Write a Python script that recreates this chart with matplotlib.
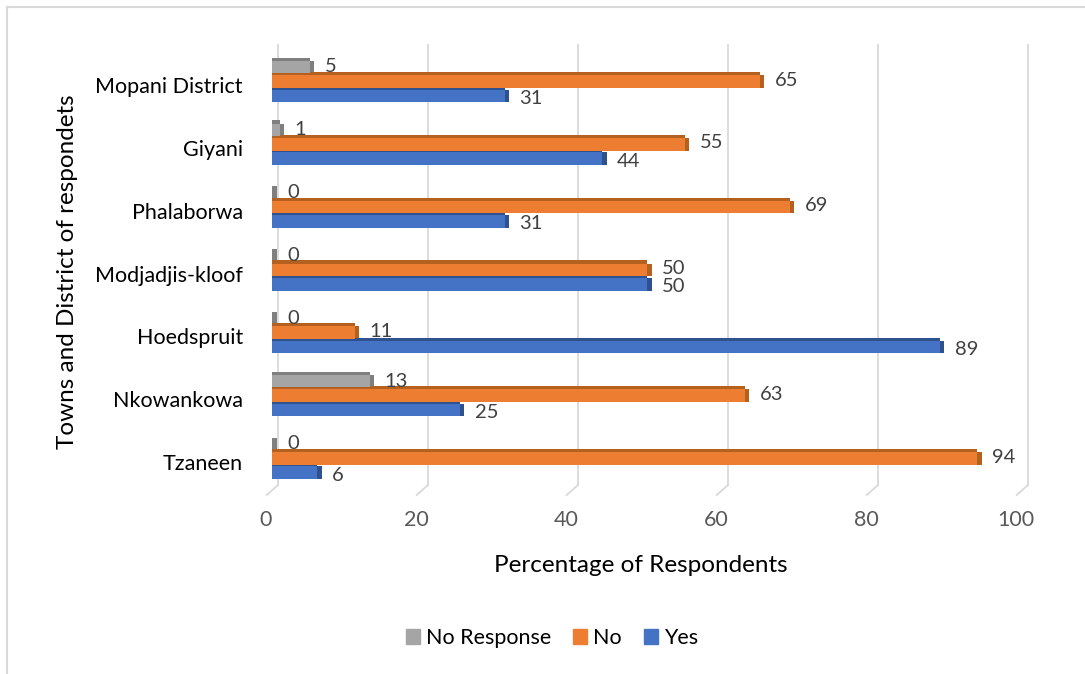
import matplotlib
matplotlib.use('Agg')
import matplotlib.pyplot as plt
from matplotlib.patches import Patch
from matplotlib.transforms import ScaledTranslation

plt.rcParams['font.family'] = ['Lato', 'DejaVu Sans']

towns = ['Tzaneen', 'Nkowankowa', 'Hoedspruit', 'Modjadjis-kloof',
         'Phalaborwa', 'Giyani', 'Mopani District']
yes = [6, 25, 89, 50, 31, 44, 31]
no = [94, 63, 11, 50, 69, 55, 65]
no_response = [0, 13, 0, 0, 0, 1, 5]
x_ticks = [0, 20, 40, 60, 80, 100]

# series: (name, values, face colour, side colour, y offset, label nudge)
series = [
    ('No Response', no_response, '#A5A5A5', '#7F7F7F', 0.29, 0.0),
    ('No', no, '#ED7D31', '#B4601F', 0.06, 0.02),
    ('Yes', yes, '#4472C4', '#2F528F', -0.17, -0.04),
]

fig = plt.figure(figsize=(10.85, 6.74), dpi=100)
ax = fig.add_axes([272 / 1085, 1 - 495 / 674, 750 / 1085, 450 / 674])
ax.set_xlim(0, 100)
ax.set_ylim(-0.525, 6.64)

# frame around the chart (only top/left edges visible in the original)
fig.add_artist(plt.Line2D([7 / 1085, 1], [1 - 7 / 674, 1 - 7 / 674],
                          transform=fig.transFigure, color='#D9D9D9', lw=1.5))
fig.add_artist(plt.Line2D([7 / 1085, 7 / 1085], [0, 1 - 7 / 674],
                          transform=fig.transFigure, color='#D9D9D9', lw=1.5))

# 3D-style gridlines: back wall + floor foot
foot = 10 / 450
for t in x_ticks:
    ax.plot([t + 0.8, t + 0.8], [1, foot], color='#D9D9D9', lw=1.3,
            transform=ax.get_xaxis_transform(), zorder=0, clip_on=False)
    ax.plot([t + 0.8, t - 0.7], [foot, 0], color='#D9D9D9', lw=1.3,
            transform=ax.get_xaxis_transform(), zorder=0, clip_on=False)

h = 0.2
depth = 0.6   # x depth of the side face
top = 0.05    # height of top face
ypos = list(range(len(towns)))
for name, vals, face, side, off, nudge in series:
    ys = [y + off for y in ypos]
    # top face
    ax.barh([y + h / 2 + top / 2 for y in ys], vals, height=top, left=0,
            color=side, zorder=2)
    # side face
    ax.barh(ys, [depth] * len(vals), left=vals, height=h, color=side, zorder=2)
    ax.barh(ys, vals, height=h, color=face, zorder=3)
    for y, v in zip(ys, vals):
        ax.text(v + 2.0, y + nudge, str(v), va='center', ha='left',
                fontsize=14.5, color='#404040', zorder=4)

ax.set_yticks(ypos)
ax.set_yticklabels(towns, fontsize=15.5, color='#000000')
ax.tick_params(axis='y', length=0, pad=21)
ax.set_xticks(x_ticks)
ax.set_xticklabels([str(t) for t in x_ticks], fontsize=15.5, color='#595959')
ax.tick_params(axis='x', length=0, pad=11)
for lbl in ax.get_xticklabels():
    lbl.set_transform(lbl.get_transform() + ScaledTranslation(-0.06, 0, fig.dpi_scale_trans))
for s in ax.spines.values():
    s.set_visible(False)

fig.text(641 / 1085, 1 - 565 / 674, 'Percentage of Respondents', ha='center',
         va='center', fontsize=17.5, color='#000000')
fig.text(68 / 1085, 1 - 272 / 674, 'Towns and District of respondets', ha='center',
         va='center', rotation=90, fontsize=17.5, color='#000000')

handles = [Patch(color=s[2]) for s in series]
fig.legend(handles, [s[0] for s in series], loc='center',
           bbox_to_anchor=(552 / 1085, 1 - 638 / 674), ncol=3, frameon=False,
           fontsize=15.5, handlelength=0.65, handleheight=0.65, handletextpad=0.3,
           columnspacing=1.0)

fig.savefig('out.png', dpi=100)
